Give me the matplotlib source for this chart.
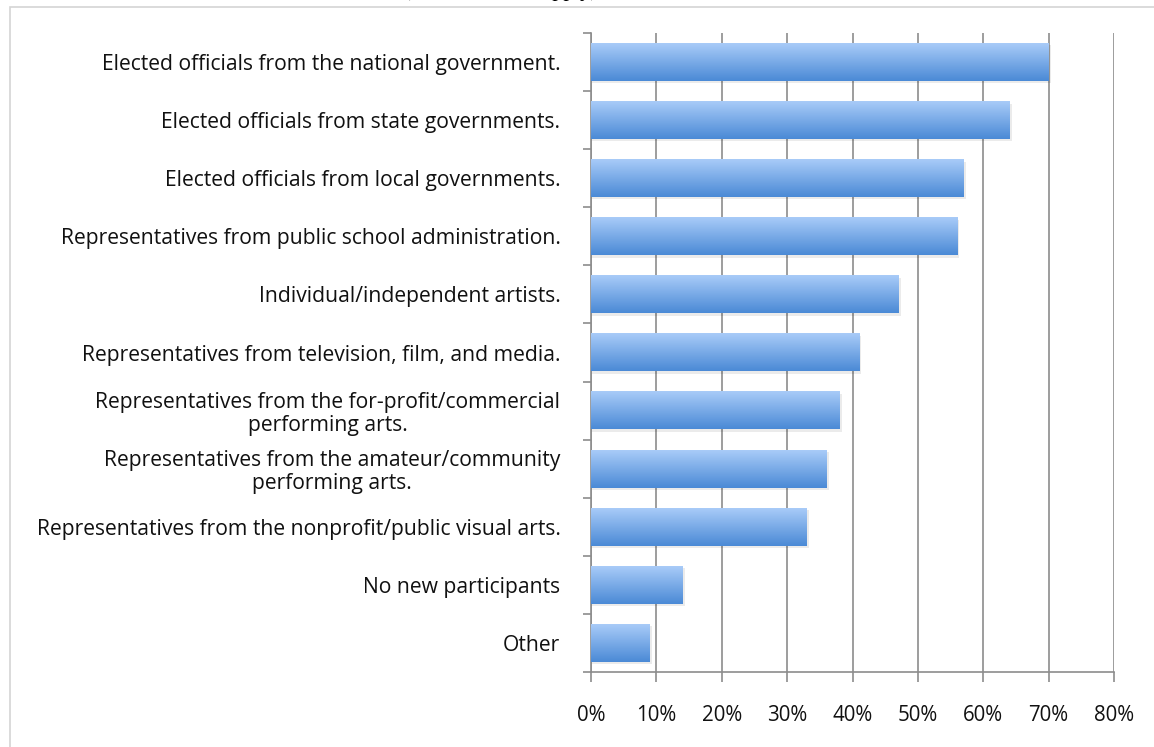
import matplotlib
matplotlib.use("Agg")
import matplotlib.pyplot as plt
import numpy as np
from matplotlib.patches import Rectangle

categories = [
    "Elected officials from the national government.",
    "Elected officials from state governments.",
    "Elected officials from local governments.",
    "Representatives from public school administration.",
    "Individual/independent artists.",
    "Representatives from television, film, and media.",
    "Representatives from the for-profit/commercial\nperforming arts.",
    "Representatives from the amateur/community\nperforming arts.",
    "Representatives from the nonprofit/public visual arts.",
    "No new participants",
    "Other",
]
values = [70, 64, 57, 56, 47, 41, 38, 36, 33, 14, 9]
xticks = [0, 10, 20, 30, 40, 50, 60, 70, 80]

plt.rcParams['font.family'] = ['Open Sans', 'DejaVu Sans']

fig = plt.figure(figsize=(11.54, 7.47), dpi=100)
ax = fig.add_axes([591 / 1154, 1 - 672 / 747, 523 / 1154, 639 / 747])

# outer frame of the pasted chart
fig.patches.append(Rectangle((10 / 1154, -0.1), 1.2, 1 - 7 / 747 + 0.1,
                             transform=fig.transFigure, fill=False,
                             edgecolor='#d4d4d4', linewidth=1.2))
# clipped subtitle at the very top
fig.text(0.435, 1 + 4 / 747, "(Check all that apply)", ha='center', va='baseline',
         fontsize=16, style='italic', family='Liberation Serif')

n = len(categories)
ypos = np.arange(n)

grad = np.linspace(0, 1, 64).reshape(-1, 1)
cmap = matplotlib.colors.LinearSegmentedColormap.from_list('bar', ['#a8cbf8', '#4b8ad6'])
bar_h = 0.65
for y, v in zip(ypos, values):
    # soft shadow
    ax.add_patch(Rectangle((0, y - bar_h / 2 + 0.04), v + 0.35, bar_h, facecolor='#000000',
                           alpha=0.08, edgecolor='none', zorder=2))
    ax.imshow(grad, extent=[0, v, y + bar_h / 2, y - bar_h / 2], cmap=cmap,
              aspect='auto', zorder=3, interpolation='bicubic')
ax.set_xlim(0, 80)
ax.set_ylim(n - 0.5, -0.5)

ax.set_xticks(xticks)
ax.set_xticklabels([f"{t}%" for t in xticks], fontsize=14.8, color='#111111')
ax.set_yticks(np.arange(n + 1) - 0.5, minor=False)
ax.set_yticklabels([])
ax.set_yticks(ypos, minor=True)
ax.set_yticklabels(categories, minor=True, fontsize=15.2, color='#111111',
                   linespacing=1.1)
for lab in ax.get_yticklabels(minor=True):
    lab.set_multialignment('center')
ax.tick_params(axis='y', which='minor', length=0, pad=22)
ax.tick_params(axis='y', which='major', length=6, width=1.2, color='#8c8c8c', direction='out')
ax.tick_params(axis='x', length=7, width=1.2, color='#8c8c8c', direction='out', pad=17)

ax.grid(axis='x', color='#8c8c8c', linewidth=1.2, zorder=0)
ax.set_axisbelow(True)
for side in ['top', 'right']:
    ax.spines[side].set_visible(False)
for side in ['left', 'bottom']:
    ax.spines[side].set_color('#8c8c8c')
    ax.spines[side].set_linewidth(1.2)

fig.savefig("out.png", dpi=100)
